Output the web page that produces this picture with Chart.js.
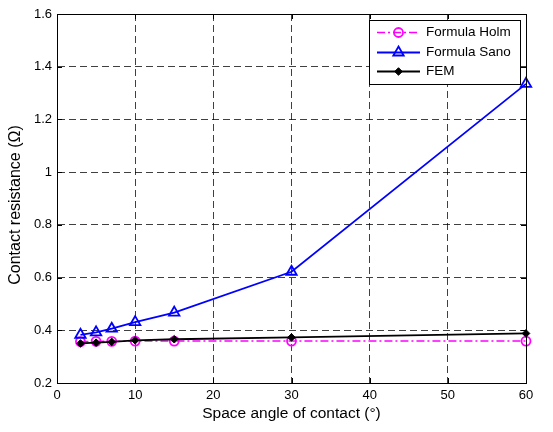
<!DOCTYPE html>
<html>
<head>
<meta charset="utf-8">
<script src="https://cdn.jsdelivr.net/npm/chart.js@4"></script>
<style>
html,body{margin:0;padding:0;background:#fff;}
#wrap{width:553px;height:432px;}
</style>
</head>
<body>
<div id="wrap"><canvas id="c" width="553" height="432"></canvas></div>
<script>
const angles = [3, 5, 7, 10, 15, 30, 60];
const holm = [0.357, 0.358, 0.358, 0.359, 0.359, 0.359, 0.359];
const sano = [0.383, 0.392, 0.406, 0.431, 0.467, 0.622, 1.335];
const fem = [0.350, 0.353, 0.356, 0.362, 0.366, 0.373, 0.388];
const seriesNames = ['Formula Holm', 'Formula Sano', 'FEM'];
const xTickLabels = ['0', '10', '20', '30', '40', '50', '60'];
const yTickLabels = ['0.2', '0.4', '0.6', '0.8', '1', '1.2', '1.4', '1.6'];
const xTitle = 'Space angle of contact (°)';
const yTitle = 'Contact resistance (Ω)';

const FONT = "'Liberation Sans', Arial, sans-serif";

function pts(vals) { return angles.map((a, i) => ({x: a, y: vals[i]})); }

const boxPlugin = {
  id: 'box',
  afterDatasetsDraw(chart) {
    const {ctx, chartArea: a, scales} = chart;
    ctx.save();
    ctx.strokeStyle = '#000';
    ctx.lineWidth = 1;
    ctx.setLineDash([]);
    ctx.strokeRect(Math.round(a.left) + 0.5, Math.round(a.top) + 0.5, Math.round(a.right - a.left), Math.round(a.bottom - a.top));
    const L = 5;
    ctx.beginPath();
    scales.x.ticks.forEach(t => {
      const x = Math.round(scales.x.getPixelForValue(t.value)) + 0.5;
      ctx.moveTo(x, a.bottom); ctx.lineTo(x, a.bottom - L);
      ctx.moveTo(x, a.top); ctx.lineTo(x, a.top + L);
    });
    scales.y.ticks.forEach(t => {
      const y = Math.round(scales.y.getPixelForValue(t.value)) + 0.5;
      ctx.moveTo(a.left, y); ctx.lineTo(a.left + L, y);
      ctx.moveTo(a.right, y); ctx.lineTo(a.right - L, y);
    });
    ctx.stroke();
    ctx.restore();
  },
  afterDraw(chart) {
    const {ctx} = chart;
    // y axis title
    ctx.save();
    ctx.translate(16, 205);
    ctx.rotate(-Math.PI / 2);
    ctx.fillStyle = '#000';
    ctx.font = '16px ' + FONT;
    ctx.textAlign = 'center';
    ctx.textBaseline = 'middle';
    ctx.fillText(yTitle, 0, 0);
    ctx.restore();
    // legend
    const bx = 369.5, by = 20.5, bw = 151, bh = 64;
    ctx.save();
    ctx.fillStyle = '#fff';
    ctx.fillRect(bx, by, bw, bh);
    ctx.strokeStyle = '#000';
    ctx.lineWidth = 1;
    ctx.setLineDash([]);
    ctx.strokeRect(bx, by, bw, bh);
    const rows = [32.5, 52.5, 71.5];
    chart.data.datasets.forEach((ds, i) => {
      const y = rows[i];
      ctx.save();
      ctx.strokeStyle = ds.borderColor;
      ctx.lineWidth = ds.borderWidth;
      ctx.setLineDash(ds.borderDash || []);
      ctx.beginPath();
      ctx.moveTo(377, y); ctx.lineTo(420, y);
      ctx.stroke();
      ctx.setLineDash([]);
      ctx.fillStyle = ds.pointBackgroundColor;
      ctx.strokeStyle = ds.pointBorderColor;
      ctx.lineWidth = ds.pointBorderWidth;
      Chart.helpers.drawPoint(ctx, {pointStyle: ds.pointStyle, radius: ds.pointRadius, borderWidth: ds.pointBorderWidth, rotation: 0}, 398.5, y);
      ctx.restore();
      ctx.fillStyle = '#000';
      ctx.font = '13.5px ' + FONT;
      ctx.textBaseline = 'middle';
      ctx.textAlign = 'left';
      ctx.fillText(ds.label, 426, y);
    });
    ctx.restore();
  }
};

new Chart(document.getElementById('c'), {
  type: 'line',
  data: {
    datasets: [
      {
        label: seriesNames[0], data: pts(holm),
        borderColor: '#ff00ff', borderWidth: 1.5, borderDash: [8, 3, 2, 3],
        pointStyle: 'circle', pointRadius: 4.5, pointBorderWidth: 1.8,
        pointBorderColor: '#ff00ff', pointBackgroundColor: 'rgba(255,255,255,0)',
        order: 3, clip: false
      },
      {
        label: seriesNames[1], data: pts(sano),
        borderColor: '#0000ff', borderWidth: 1.8,
        pointStyle: 'triangle', pointRadius: 6, pointBorderWidth: 1.8,
        pointBorderColor: '#0000ff', pointBackgroundColor: 'rgba(255,255,255,0)',
        order: 2, clip: false
      },
      {
        label: seriesNames[2], data: pts(fem),
        borderColor: '#000000', borderWidth: 1.8,
        pointStyle: 'rectRot', pointRadius: 3.8, pointBorderWidth: 1,
        pointBorderColor: '#000000', pointBackgroundColor: '#000000',
        order: 1, clip: false
      }
    ]
  },
  options: {
    responsive: false,
    animation: false,
    devicePixelRatio: 1,
    layout: {padding: {left: 0, right: 27, top: 14, bottom: 0}},
    plugins: {legend: {display: false}, tooltip: {enabled: false}},
    elements: {line: {tension: 0, fill: false}},
    scales: {
      x: {
        type: 'linear', min: 0, max: 60,
        afterFit(s) { s.height = 49; },
        ticks: {stepSize: 10, color: '#000', padding: 5, maxRotation: 0,
          font: {family: FONT, size: 13},
          callback: (v, i) => xTickLabels[i]},
        grid: {color: 'rgba(0,0,0,0.75)', lineWidth: 1, drawTicks: false},
        border: {display: true, color: '#000', dash: [7, 4]},
        title: {display: true, text: xTitle, color: '#000', font: {family: FONT, size: 15.5}, padding: {top: 0, bottom: 9}}
      },
      y: {
        min: 0.2, max: 1.6,
        afterFit(s) { s.width = 57; },
        ticks: {stepSize: 0.2, color: '#000', padding: 5,
          font: {family: FONT, size: 13},
          callback: (v, i) => yTickLabels[i]},
        grid: {color: 'rgba(0,0,0,0.75)', lineWidth: 1, drawTicks: false},
        border: {display: true, color: '#000', dash: [7, 4]},
        title: {display: false, text: yTitle}
      }
    }
  },
  plugins: [boxPlugin]
});
</script>
</body>
</html>
